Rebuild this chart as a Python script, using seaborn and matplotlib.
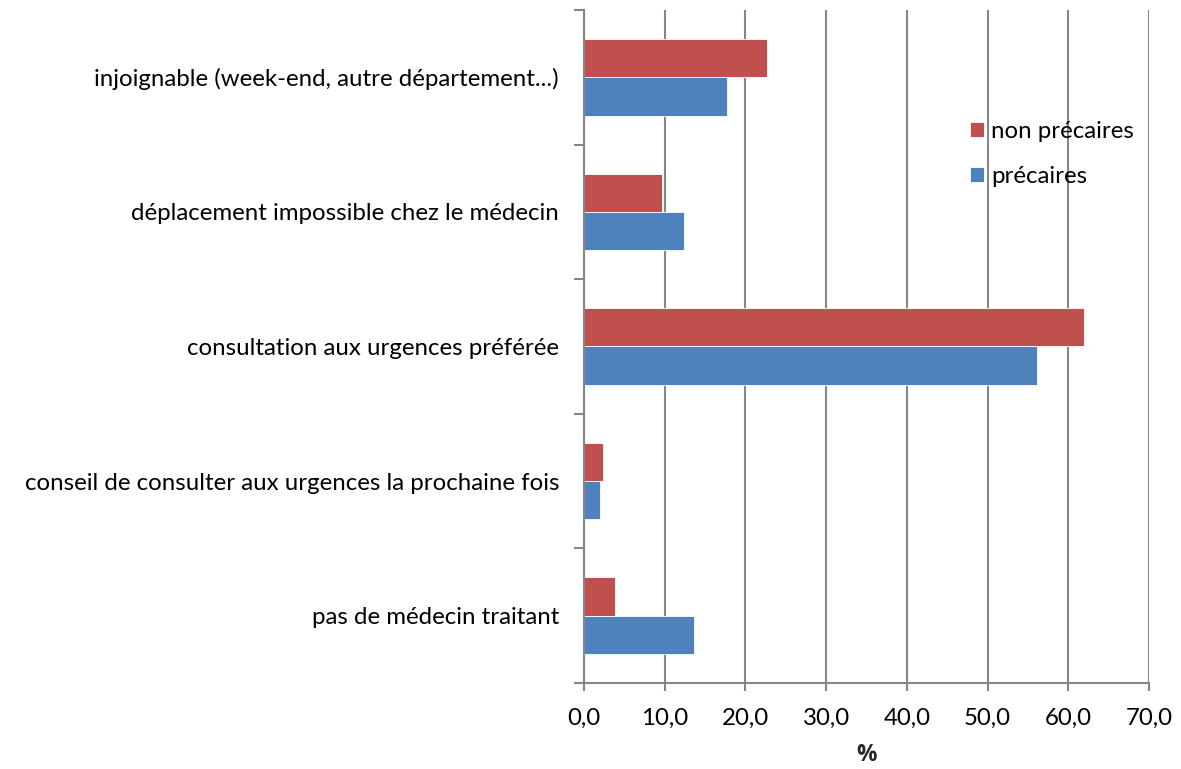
import numpy as np
import pandas as pd
import matplotlib.pyplot as plt
import seaborn as sns

categories = [
    "injoignable (week-end, autre département...)",
    "déplacement impossible chez le médecin",
    "consultation aux urgences préférée",
    "conseil de consulter aux urgences la prochaine fois",
    "pas de médecin traitant",
]
non_precaires = [22.7, 9.6, 61.9, 2.3, 3.8]
precaires = [17.7, 12.4, 56.1, 2.0, 13.6]
series = ["non précaires", "précaires"]
xticks = [0, 10, 20, 30, 40, 50, 60, 70]

df = pd.DataFrame({
    "cat": categories * 2,
    "val": non_precaires + precaires,
    "grp": [series[0]] * 5 + [series[1]] * 5,
})

sns.set_style("white")
plt.rcParams['font.family'] = ['Lato', 'DejaVu Sans']
plt.rcParams['text.color'] = 'black'
plt.rcParams['xtick.color'] = 'black'
plt.rcParams['ytick.color'] = 'black'

fig = plt.figure(figsize=(11.81, 7.69), dpi=100)
ax = fig.add_axes([0.4945, 0.112, 0.4785, 0.875])

gray = "#868686"
fs = 17.3
ax.set_axisbelow(True)
ax.grid(axis="x", color=gray, linewidth=1.5)
sns.barplot(data=df, x="val", y="cat", hue="grp", hue_order=series,
            palette=["#C0504D", "#4F81BD"], width=0.57, saturation=1,
            edgecolor="white", linewidth=0.6, ax=ax)

ax.set_xlim(0, 70)
ax.set_ylim(4.5, -0.5)
ax.set_xticks(xticks, labels=[f"{v:.1f}".replace(".", ",") for v in xticks], fontsize=fs)
ax.set_yticks(np.arange(-0.5, 5, 1), labels=[""] * 6)
ax.set_yticks(range(5), labels=categories, minor=True, fontsize=fs)
ax.tick_params(axis="y", which="major", left=True, length=7, color=gray, width=1.5, direction="out")
ax.tick_params(axis="y", which="minor", left=False, length=0, pad=18)
ax.tick_params(axis="x", bottom=True, length=6, color=gray, width=1.5, direction="out", pad=12)

for s in ["top", "right"]:
    ax.spines[s].set_visible(False)
for s in ["left", "bottom"]:
    ax.spines[s].set_color(gray)
    ax.spines[s].set_linewidth(1.5)

ax.set_ylabel("")
ax.set_xlabel("%", fontsize=fs - 1, fontweight="bold", family="Open Sans", labelpad=10)

ax.legend(title=None, frameon=False, fontsize=fs, loc="upper left",
          bbox_to_anchor=(0.813, 0.855), bbox_transform=fig.transFigure,
          handlelength=0.6, handleheight=0.6, handletextpad=0.3,
          labelspacing=1.0, borderaxespad=0)

fig.savefig("out.png", dpi=100)
